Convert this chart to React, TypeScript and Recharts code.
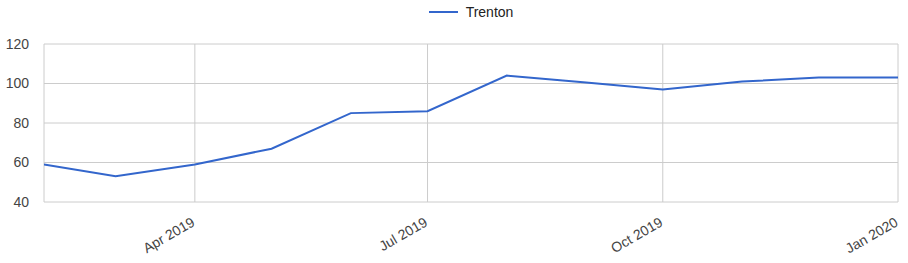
import React from "react";
import { LineChart, Line, XAxis, YAxis, CartesianGrid, Legend } from "recharts";

// monthly values, Feb 2019 .. Jan 2020
const months = ["2019-02", "2019-03", "2019-04", "2019-05", "2019-06", "2019-07", "2019-08", "2019-09", "2019-10", "2019-11", "2019-12", "2020-01"];
const trenton = [59, 53, 59, 67, 85, 86, 104, 100.5, 97, 101, 103, 103];

const yTicks = [40, 60, 80, 100, 120];
const xTickMonths = ["2019-04", "2019-07", "2019-10", "2020-01"];
const xTickLabels = ["Apr 2019", "Jul 2019", "Oct 2019", "Jan 2020"];

const FONT = "Arial, 'Liberation Sans', sans-serif";

function toTime(m: string) {
  const [y, mo] = m.split("-").map(Number);
  return Date.UTC(y, mo - 1, 1);
}

const data = months.map((m, i) => ({ t: toTime(m), Trenton: trenton[i] }));
const xTicks = xTickMonths.map(toTime);

function XTick(props: any) {
  const { x, y, payload } = props;
  const idx = xTicks.indexOf(payload.value);
  const ax = x + 1;
  return (
    <text x={ax} y={y} textAnchor="end" fontSize={14} fill="#444" fontFamily={FONT}
      transform={`rotate(-30, ${ax}, ${y})`}>
      {xTickLabels[idx]}
    </text>
  );
}

function YTick(props: any) {
  const { x, y, payload } = props;
  return (
    <text x={x} y={y} dy="0.35em" textAnchor="end" fontSize={14} fill="#444" fontFamily={FONT}>
      {payload.value}
    </text>
  );
}

function LegendContent() {
  return (
    <div style={{ height: 24, display: "flex", justifyContent: "center", alignItems: "center" }}>
      <svg width={29} height={4} style={{ marginRight: 8 }}>
        <line x1={0} y1={2} x2={29} y2={2} stroke="#3366CC" strokeWidth={2} />
      </svg>
      <span style={{ fontSize: 14, color: "#222", fontFamily: FONT }}>Trenton</span>
    </div>
  );
}

export default function App() {
  return (
    <div style={{ position: "absolute", left: 0, top: 0, width: 908, height: 263, background: "#fff" }}>
      <style>{"body{margin:0}"}</style>
      <LineChart width={908} height={263} data={data} margin={{ top: 20, right: 10, bottom: 0, left: 0 }}>
        <CartesianGrid stroke="#cccccc" strokeWidth={1} />
        <XAxis dataKey="t" type="number" domain={[data[0].t, data[data.length - 1].t]} ticks={xTicks}
          axisLine={false} tickLine={false} tickSize={0} tickMargin={23} height={61}
          tick={<XTick />} interval={0} allowDataOverflow />
        <YAxis domain={[40, 120]} ticks={yTicks} axisLine={false} tickLine={false} tickSize={0}
          tickMargin={15} width={44} tick={<YTick />} interval={0} />
        <Legend verticalAlign="top" align="center" content={<LegendContent />}
          wrapperStyle={{ top: 0, left: 44, width: 854, height: 24 }} />
        <Line type="linear" dataKey="Trenton" stroke="#3366CC" strokeWidth={2} dot={false}
          isAnimationActive={false} />
      </LineChart>
    </div>
  );
}
